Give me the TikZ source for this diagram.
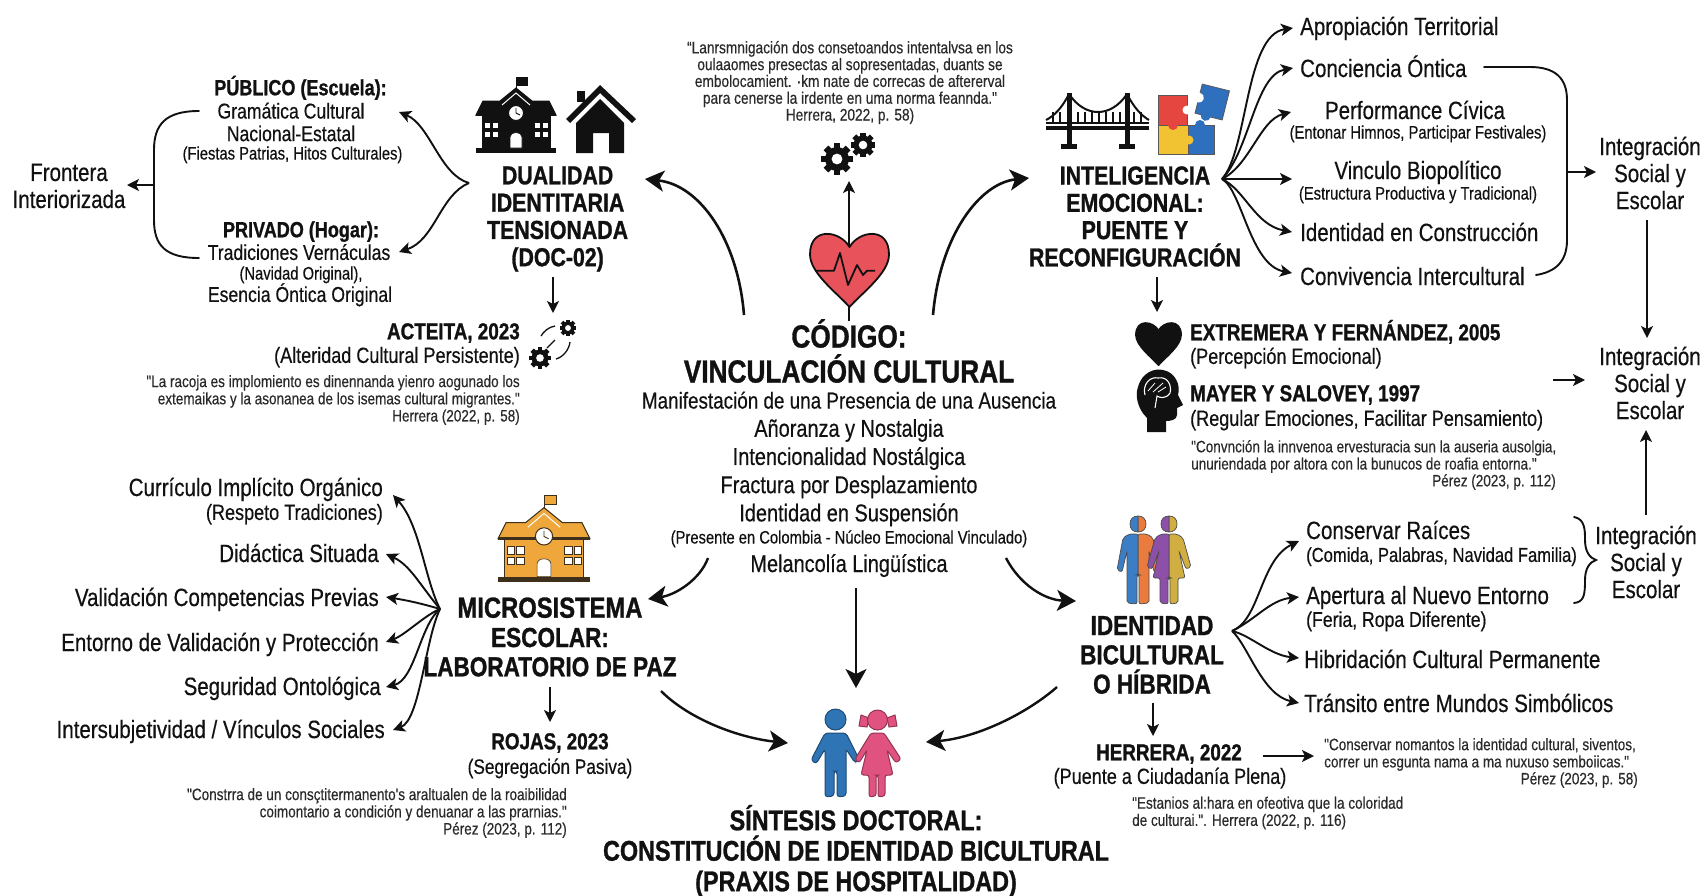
\documentclass[tikz,border=0pt]{standalone}
\usepackage{fontspec}
\setmainfont[FakeStretch=0.82,FakeBold=0.4,BoldFeatures={FakeBold=1.0},Ligatures=TeXOff]{Liberation Sans}
\usetikzlibrary{arrows.meta}
\definecolor{ink}{HTML}{111111}
\definecolor{qink}{HTML}{2A2A2A}
\definecolor{hred}{HTML}{E8525A}
\definecolor{pred}{HTML}{E5463F}
\definecolor{pyel}{HTML}{F1C333}
\definecolor{pblu}{HTML}{2F70BE}
\definecolor{orng}{HTML}{EFA73C}
\definecolor{pboy}{HTML}{2F74B5}
\definecolor{pgirl}{HTML}{E0527F}
\definecolor{hblu}{HTML}{3B7EC6}
\definecolor{hora}{HTML}{EA7B3E}
\definecolor{hpur}{HTML}{8D50A8}
\definecolor{hgol}{HTML}{D0AE42}
\newcommand{\fs}[2]{\fontsize{#1}{#2}\selectfont}
\newcommand{\mygear}[3]{% x y r
 \begin{scope}[shift={(#1,#2)}]
 \foreach \a in {0,45,...,315}{\fill[ink,rotate=\a] (-#3*0.28,0) rectangle (#3*0.28,#3*1.3);}
 \fill[ink] (0,0) circle (#3);
 \fill[white] (0,0) circle (#3*0.45);
 \end{scope}}
\newcommand{\myschool}[5]{% x y scale fill stroke
 \begin{scope}[shift={(#1,#2)},scale=#3]
 \draw[#5,line width=1pt] (40,0) -- (40,12);
 \fill[#4,draw=#5,line width=.8pt] (40,0) rectangle (51,8);
 \fill[#4,draw=#5,line width=1pt] (0,38) -- (7,24) -- (24,24) -- (40,11) -- (56,24) -- (73,24) -- (80,38) -- cycle;
 \fill[#4,draw=#5,line width=1pt] (6,38) rectangle (74,72);
 \fill[#5] (0,71) rectangle (80,76);
 \fill[#5] (0,36.5) rectangle (80,39);
 \draw[white,line width=1pt] (26,28) -- (40,16) -- (54,28);
 \fill[white,draw=#5,line width=1pt] (40,36) circle (7.5);
 \draw[#5,line width=.9pt] (40,31) -- (40,36) -- (44,38);
 \foreach \wx in {8,16,58,66}{\foreach \wy in {45,54}{\fill[white,draw=#5,line width=.6pt] (\wx,\wy) rectangle +(6.5,6.5);}}
 \fill[white,draw=#5,line width=.6pt] (34,71) -- (34,60) .. controls (34,54) and (46,54) .. (46,60) -- (46,71) -- cycle;
 \end{scope}}
\newcommand{\myheart}[6]{% cx top w h fill stroke
 \begin{scope}[shift={(#1,#2)},x=#3pt,y=-#4pt]
 \fill[#5,draw=#6,line width=1.8pt,line join=round] (0,0.2) .. controls (0.12,-0.02) and (0.5,-0.08) .. (0.5,0.3) .. controls (0.5,0.55) and (0.15,0.82) .. (0,1) .. controls (-0.15,0.82) and (-0.5,0.55) .. (-0.5,0.3) .. controls (-0.5,-0.08) and (-0.12,-0.02) .. (0,0.2) -- cycle;
 \end{scope}}
\newcommand{\hummale}[1]{\fill[#1,draw=ink!75,line width=.7pt] (0,1) .. controls (5,1) and (8,4) .. (8,9) .. controls (8,14) and (5,17) .. (0,17) -- cycle;
 \fill[#1,draw=ink!75,line width=.7pt,rounded corners=2pt] (0,19) -- (9,19) -- (15,23) -- (21,55) -- (16,57) -- (11,36) -- (11,88) -- (1,89) -- (1,60) -- (0,60) -- cycle;}
\newcommand{\humfem}[1]{\fill[#1,draw=ink!75,line width=.7pt] (0,1) .. controls (5,1) and (8,4) .. (8,9) .. controls (8,14) and (5,17) .. (0,17) -- cycle;
 \fill[#1,draw=ink!75,line width=.7pt,rounded corners=2pt] (0,19) -- (8,19) -- (14,23) -- (22,52) -- (17,54) -- (10,36) -- (16,63) -- (9,63) -- (9,88) -- (1,89) -- (1,63) -- (0,63) -- cycle;}
\tikzset{
 txt/.style={inner sep=0pt,text=ink},
 qt/.style={txt,text=qink,font=\fs{16.5}{17.2}},
 hA/.style={txt,font=\bfseries\fs{26}{27.3},align=center},
 hB/.style={txt,font=\bfseries\fs{27.5}{29.3},align=center},
 hC/.style={txt,font=\bfseries\fs{28.5}{30.5},align=center},
 hD/.style={txt,font=\bfseries\fs{32}{35},align=center},
 bold/.style={txt,font=\bfseries\fs{23}{24},text height=16.5pt,text depth=0pt},
 la/.style={txt,font=\fs{25}{26},text height=18pt,text depth=0pt},
 lb/.style={txt,font=\fs{22}{23},text height=15.8pt,text depth=0pt},
 lc/.style={txt,font=\fs{18}{19},text height=13pt,text depth=0pt},
 ml/.style={txt,font=\fs{25}{27},align=center},
 cl/.style={txt,font=\fs{24.3}{28.2},align=center},
 con/.style={draw=ink,line width=1.9pt,-{Stealth[length=12pt,width=12pt,inset=3pt]}},
 conb/.style={draw=ink,line width=2.6pt,-{Stealth[length=19pt,width=21pt,inset=5pt]}},
 brk/.style={draw=ink,line width=1.9pt,line cap=round},
}
\begin{document}
\begin{tikzpicture}[x=1pt,y=-1pt]
\useasboundingbox (0,0) rectangle (1705,895);
\fill[white] (0,0) rectangle (1705,895);
% ---------- top left
\node[ml] (front) at (69,186) {Frontera\\Interiorizada};
\node[bold,font=\bfseries\fs{22}{23}] (pubH) at (300.5,87) {PÚBLICO (Escuela):};
\node[txt,font=\fs{21.5}{22.6},align=center] (pubB) at (291,122) {Gramática Cultural\\Nacional-Estatal};
\node[lc] (pubS) at (292.5,153) {(Fiestas Patrias, Hitos Culturales)};
\node[bold,font=\bfseries\fs{22}{23}] (privH) at (301,229) {PRIVADO (Hogar):};
\node[lb,font=\fs{21.5}{22.3}] (privB) at (299,252) {Tradiciones Vernáculas};
\node[lc] (privS) at (301,273) {(Navidad Original),};
\node[lb,font=\fs{21.5}{22.3}] (privC) at (300,294) {Esencia Óntica Original};
\node[hA] (dual) at (557.6,219) {DUALIDAD\\IDENTITARIA\\TENSIONADA\\(DOC-02)};
\myschool{476}{77}{1}{ink}{ink}
\fill[ink] (566,119) -- (600,85) -- (636,119) -- (632,123) -- (600,93) -- (570,123) -- cycle;
\fill[ink] (577,91) rectangle (585,102);
\fill[ink] (576,123) -- (600,99) -- (624,123) -- (624,153) -- (609,153) -- (609,133) -- (593,133) -- (593,153) -- (576,153) -- cycle;
\coordinate (fanD) at (469,183);
\draw[con] (fanD) .. controls (440,175) and (430,125) .. ([shift={(108,-10)}]pubB.center);
\draw[con] (fanD) .. controls (440,195) and (435,240) .. ([shift={(100,0)}]privB.center);
\draw[brk] ([shift={(-92,-11)}]pubB.center) .. controls (165,111) and (154,125) .. (154,150) -- (154,220) .. controls (154,245) and (165,258) .. ([shift={(-100,6)}]privB.center);
\coordinate (brL) at (154,185);
\draw[con] (brL) -- ([shift={(58,-1)}]front.center);
\node[bold,anchor=east] (act) at (520,331) {ACTEITA, 2023};
\node[lb,anchor=east] (actS) at (520,355) {(Alteridad Cultural Persistente)};
\node[qt,anchor=east,align=right] (actQ) at (520,400) {"La racoja es implomiento es dinennanda yienro aogunado los\\extemaikas y la asonanea de los isemas cultural migrantes."\\Herrera (2022, p. 58)};
\coordinate (gearsA) at (554,343);
\draw[con] ([shift={(-4.6,58)}]dual.center) -- ([shift={(-1,-30)}]gearsA);
\mygear{568}{328}{6.5}
\mygear{540}{358}{8.5}
\draw[ink,line width=1.3pt] (541,336) .. controls (544,331) and (549,327) .. (555,326);
\draw[ink,line width=1.3pt] (570,342) .. controls (569,350) and (563,357) .. (556,359);
\draw[ink,line width=1.3pt] (547,348) -- (555,340);
% ---------- top centre
\node[qt,font=\fs{16.7}{16.8},align=center] (topQ) at (850,82.5) {“Lanrsmnigación dos consetoandos intentalvsa en los\\oulaaomes presectas al sopresentadas, duants se\\embolocamient. ·km nate de correcas de aftererval\\para cenerse la irdente en uma norma feannda."\\Herrera, 2022, p. 58)};
\mygear{837}{159}{12}
\mygear{863}{145}{9.5}
\coordinate (gearsT) at (849,152);
\coordinate (heartT) at (849,270);
\draw[con] ([yshift=-51]heartT) -- ([yshift=-29]gearsT);
\myheart{849.5}{232}{79}{75}{hred}{ink}
\draw[ink,line width=1.8pt,line join=round] (815,270.7) -- (834,270.7) -- (840,253) -- (848,285) -- (857,265) -- (863,275) -- (867,270.7) -- (875,270.7);
% ---------- centre
\node[hD] (code) at (849,351) {CÓDIGO:\\VINCULACIÓN CULTURAL};
\node[cl] (codeL) at (849,459) {{\fs{23}{28.2}Manifestación de una Presencia de una Ausencia}\\Añoranza y Nostalgia\\Intencionalidad Nostálgica\\Fractura por Desplazamiento\\Identidad en Suspensión};
\node[lc] (codeS) at (849,537) {(Presente en Colombia - Núcleo Emocional Vinculado)};
\node[la,font=\fs{24.3}{25}] (melan) at (849,563) {Melancolía Lingüística};
\draw[conb] ([shift={(-105,-36)}]code.center) .. controls (738,240) and (700,185) .. ([shift={(87.4,-40)}]dual.center);
\draw[conb] ([shift={(84,-36)}]code.center) .. controls (940,235) and (980,183) .. ([shift={(-106,-38.5)}]1135,216.5);
% ---------- top right
\node[hA] (intel) at (1135,216.5) {INTELIGENCIA\\EMOCIONAL:\\PUENTE Y\\RECONFIGURACIÓN};
% bridge
\draw[ink,line width=4.5pt] (1046,128) -- (1149,128);
\draw[ink,line width=2pt] (1046,122.5) -- (1149,122.5);
\draw[ink,line width=5pt] (1069,93) -- (1069,146);
\draw[ink,line width=5pt] (1127,93) -- (1127,146);
\fill[ink] (1061,144) rectangle (1077,149);
\fill[ink] (1119,144) rectangle (1135,149);
\draw[ink,line width=2pt] (1069,94) .. controls (1085,118) and (1111,118) .. (1127,94);
\draw[ink,line width=2pt] (1069,94) .. controls (1062,108) and (1054,116) .. (1046,120);
\draw[ink,line width=2pt] (1127,94) .. controls (1134,108) and (1142,116) .. (1149,120);
\foreach \hx in {1078,1085,1092,1099,1106,1113,1120,1053,1060,1134,1141}{\draw[ink,line width=1.3pt] (\hx,112) -- (\hx,124);}
% puzzle
\fill[pyel,draw=ink!70,line width=.8pt] (1158,125) rectangle (1188,154);
\fill[pred,draw=ink!70,line width=.8pt] (1158,95) rectangle (1187,125);
\fill[pred] (1173,125) circle (5);
\fill[pyel] (1188,140) circle (5);
\fill[pblu,draw=ink!70,line width=.8pt] (1188,125) rectangle (1214,154);
\fill[pyel] (1189,140) circle (4.5);
\fill[pblu] (1200,125) circle (5);
\fill[white] (1187,110) circle (4.5);
\begin{scope}[shift={(1212,103)},rotate=-14]
\fill[pblu,draw=ink!70,line width=.8pt] (-14,-16) rectangle (14,14);
\fill[white] (-14,-2) circle (5);
\fill[pblu] (-3,14) circle (5);
\end{scope}
\node[la,anchor=west] (apro) at (1300,26) {Apropiación Territorial};
\node[la,anchor=west] (conc) at (1300,68) {Conciencia Óntica};
\node[la] (perf) at (1415,110) {Performance Cívica};
\node[lc] (perfS) at (1418,132) {(Entonar Himnos, Participar Festivales)};
\node[la] (vinc) at (1418,170) {Vinculo Biopolítico};
\node[lc] (vincS) at (1418,193) {(Estructura Productiva y Tradicional)};
\node[la,anchor=west] (iden) at (1300,232) {Identidad en Construcción};
\node[la,anchor=west] (conv) at (1300,276) {Convivencia Intercultural};
\coordinate (fanI) at (1222,179);
\draw[con] (fanI) .. controls (1248,150) and (1245,35) .. ([shift={(-7,2)}]apro.west);
\draw[con] (fanI) .. controls (1250,150) and (1255,75) .. ([shift={(-7,0)}]conc.west);
\draw[con] (fanI) .. controls (1250,165) and (1260,120) .. ([shift={(-124,2)}]perf.center);
\draw[con] (fanI) -- ([shift={(-126,9)}]vinc.center);
\draw[con] (fanI) .. controls (1245,190) and (1255,225) .. ([shift={(-8,0)}]iden.west);
\draw[con] (fanI) .. controls (1242,190) and (1250,265) .. ([shift={(-8,-3)}]conv.west);
\draw[brk] ([shift={(184,-1)}]conc.west) -- (1530,67) .. controls (1555,67) and (1567,78) .. (1567,100) -- (1567,240) .. controls (1567,262) and (1555,272) .. ([shift={(236,-1)}]conv.west);
\node[ml] (int1) at (1650,173) {Integración\\Social y\\Escolar};
\node[ml] (int2) at (1650,383) {Integración\\Social y\\Escolar};
\node[ml] (int3) at (1646,562) {Integración\\Social y\\Escolar};
\coordinate (brR) at (1567,172);
\draw[con] (brR) -- ([shift={(-54,-1)}]int1.center);
\draw[con] ([shift={(-3,47)}]int1.center) -- ([shift={(-3,-45)}]int2.center);
\coordinate (t2) at (1553,380);
\draw[con] (t2) -- ([shift={(-65,-3)}]int2.center);
\draw[con] ([shift={(0,-47)}]int3.center) -- ([shift={(-4,47)}]int2.center);
% refs
\draw[con] ([shift={(22,60.5)}]intel.center) -- ([shift={(22,95.5)}]intel.center);
\myheart{1158.5}{322}{45}{43}{ink}{ink}
\fill[ink] (1147,432) -- (1147,418) .. controls (1137,408) and (1135,395) .. (1138,387) .. controls (1142,372) and (1155,368) .. (1163,370) .. controls (1175,372) and (1181,385) .. (1178,395) -- (1183,405) -- (1177,408) -- (1177,415) .. controls (1177,420) and (1170,421) .. (1166,421) -- (1166,432) -- cycle;
\draw[white,line width=1.1pt] (1145,395) .. controls (1142,385) and (1150,376) .. (1158,378) .. controls (1168,376) and (1172,386) .. (1170,393) .. controls (1166,399) and (1160,398) .. (1157,396) -- (1155,408);
\draw[white,line width=.8pt] (1148,391) -- (1155,383) (1153,392) -- (1163,383) (1158,392) -- (1166,387);
\node[bold,anchor=west] (ext) at (1190,332) {EXTREMERA Y FERNÁNDEZ, 2005};
\node[lb,anchor=west] (extS) at (1190,356) {(Percepción Emocional)};
\node[bold,anchor=west] (may) at (1190,393) {MAYER Y SALOVEY, 1997};
\node[lb,anchor=west] (mayS) at (1190,418) {(Regular Emociones, Facilitar Pensamiento)};
\node[qt,anchor=west,align=left] (mayQ) at (1191,456.5) {"Convnción la innvenoa ervesturacia sun la auseria ausolgia,\\unuriendada por altora con la bunucos de roafia entorna."};
\node[qt,anchor=east] (mayP) at (1556,482) {Pérez (2023, p. 112)};
% ---------- bottom left
\myschool{498}{495}{1.15}{orng}{ink!80!orng}
\node[hB] (micro) at (550,637) {{\fs{29}{29.3}MICROSISTEMA}\\ESCOLAR:\\LABORATORIO DE PAZ};
\node[la,anchor=east] (curr) at (383,487) {Currículo Implícito Orgánico};
\node[lb,anchor=east] (currS) at (383,512) {(Respeto Tradiciones)};
\node[la,anchor=east] (did) at (379,553) {Didáctica Situada};
\node[la,anchor=east] (val) at (379,597) {Validación Competencias Previas};
\node[la,anchor=east] (ent) at (379,642) {Entorno de Validación y Protección};
\node[la,anchor=east] (seg) at (381,686) {Seguridad Ontológica};
\node[la,anchor=east] (ints) at (385,729) {Intersubjetividad / Vínculos Sociales};
\coordinate (fanM) at (440,609);
\draw[con] (fanM) .. controls (425,580) and (420,525) .. ([shift={(10,8)}]curr.east);
\draw[con] (fanM) .. controls (420,585) and (410,565) .. ([shift={(7,1)}]did.east);
\draw[con] (fanM) .. controls (420,603) and (405,600) .. ([shift={(7,0)}]val.east);
\draw[con] (fanM) .. controls (425,615) and (405,635) .. ([shift={(7,0)}]ent.east);
\draw[con] (fanM) .. controls (420,625) and (415,680) .. ([shift={(5,1)}]seg.east);
\draw[con] (fanM) .. controls (425,640) and (420,720) .. ([shift={(8,1)}]ints.east);
\draw[con] ([shift={(0,50)}]micro.center) -- ([shift={(0,85)}]micro.center);
\node[bold,font=\bfseries\fs{23}{24}] (roj) at (550,741) {ROJAS, 2023};
\node[lb,font=\fs{21}{22}] (rojS) at (550,766) {(Segregación Pasiva)};
\node[qt,anchor=east,align=right] (rojQ) at (567,813) {"Constrra de un consçtitermanento's araltualen de la roaibilidad\\coimontario a condición y denuanar a las prarnias."\\Pérez (2023, p. 112)};
% ---------- bottom right
\node[hB] (ident) at (1152,655) {IDENTIDAD\\BICULTURAL\\O HÍBRIDA};
\begin{scope}[shift={(1138,515)}]
\hummale{hora}
\begin{scope}[xscale=-1]\hummale{hblu}\end{scope}
\end{scope}
\begin{scope}[shift={(1169,515)}]
\humfem{hgol}
\begin{scope}[xscale=-1]\humfem{hpur}\end{scope}
\end{scope}
\node[la,anchor=west] (cons) at (1306,530) {Conservar Raíces};
\node[lb,font=\fs{20.2}{21.5},anchor=west] (consS) at (1306,554) {(Comida, Palabras, Navidad Familia)};
\node[la,anchor=west] (aper) at (1306,595) {Apertura al Nuevo Entorno};
\node[lb,font=\fs{21.5}{22.5},anchor=west] (aperS) at (1306,619) {(Feria, Ropa Diferente)};
\node[la,anchor=west] (hib) at (1304,659) {Hibridación Cultural Permanente};
\node[la,anchor=west] (tran) at (1304,703) {Tránsito entre Mundos Simbólicos};
\coordinate (fanH) at (1232,631);
\draw[con] (fanH) .. controls (1260,620) and (1260,560) .. ([shift={(-7,11)}]cons.west);
\draw[con] (fanH) .. controls (1255,620) and (1270,600) .. ([shift={(-7,2)}]aper.west);
\draw[con] (fanH) .. controls (1250,635) and (1270,655) .. ([shift={(-5,-1)}]hib.west);
\draw[con] (fanH) .. controls (1248,645) and (1262,695) .. ([shift={(-5,0)}]tran.west);
\draw[brk] ([shift={(-72,-45)}]int3.center) .. controls (1585,519) and (1585,530) .. (1585,540) .. controls (1585,552) and (1590,558) .. (1596,560) .. controls (1590,562) and (1585,568) .. (1585,580) .. controls (1585,595) and (1584,602) .. ([shift={(-72,41)}]int3.center);
\draw[con] ([shift={(1,48)}]ident.center) -- ([shift={(1,81)}]ident.center);
\node[bold,font=\bfseries\fs{23}{24}] (her) at (1169,752) {HERRERA, 2022};
\node[lb] (herS) at (1170,776) {(Puente a Ciudadanía Plena)};
\node[qt,anchor=west,align=left] (herQ) at (1324,754.5) {"Conservar nomantos la identidad cultural, siventos,\\correr un esgunta nama a ma nuxuso semboiicas."};
\node[qt,anchor=east] (herP) at (1638,780) {Pérez (2023, p. 58)};
\draw[con] ([shift={(94,4)}]her.center) -- ([shift={(-10,1.5)}]herQ.west);
\node[qt,anchor=west,align=left] (herR) at (1132,813) {"Estanios al:hara en ofeotiva que la coloridad\\de culturai.". Herrera (2022, p. 116)};
% ---------- bottom
\node[hC] (synth) at (856,851) {SÍNTESIS DOCTORAL:\\CONSTITUCIÓN DE IDENTIDAD BICULTURAL\\(PRAXIS DE HOSPITALIDAD)};
\draw[conb,line width=2.4pt] ([shift={(-141,-5)}]melan.center) .. controls (700,580) and (675,595) .. ([shift={(98,-38)}]micro.center);
\draw[conb,line width=2.4pt] ([shift={(157,-5)}]melan.center) .. controls (1020,585) and (1045,600) .. ([shift={(-76,-54)}]ident.center);
\draw[conb,line width=2.4pt] ([shift={(7,25)}]melan.center) -- ([shift={(0,-163)}]synth.center);
\draw[conb,line width=2.4pt] ([shift={(111,54)}]micro.center) .. controls (690,720) and (740,738) .. ([shift={(-68,-108)}]synth.center);
\draw[conb,line width=2.4pt] ([shift={(-95,32)}]ident.center) .. controls (1025,715) and (975,738) .. ([shift={(70,-109)}]synth.center);
% children
\fill[pboy,draw=pboy!65!black,line width=1pt] (835.5,719.5) circle (10.5);
\fill[pboy,draw=pboy!65!black,line width=1pt,rounded corners=3pt] (825,733) -- (846,733) -- (859,759) -- (855,763) -- (846,749) -- (846,796) -- (837,797) -- (837,771) -- (834,771) -- (834,796) -- (825,797) -- (825,749) -- (816,764) -- (811,760) -- cycle;
\fill[pgirl,draw=pgirl!65!black,line width=1pt] (861,715) -- (869,718) -- (867,727) -- (859,726) -- cycle;
\fill[pgirl,draw=pgirl!65!black,line width=1pt] (895,715) -- (887,718) -- (889,727) -- (897,726) -- cycle;
\fill[pgirl,draw=pgirl!65!black,line width=1pt] (877.5,720) circle (10);
\fill[pgirl,draw=pgirl!65!black,line width=1pt,rounded corners=2.5pt] (871,733) -- (884,733) -- (901,759) -- (896,763) -- (887,750) -- (893,775) -- (885,775) -- (885,796) -- (878,797) -- (878,775) -- (876,775) -- (876,796) -- (869,797) -- (869,775) -- (861,775) -- (867,750) -- (859,763) -- (855,759) -- cycle;
\end{tikzpicture}
\end{document}
